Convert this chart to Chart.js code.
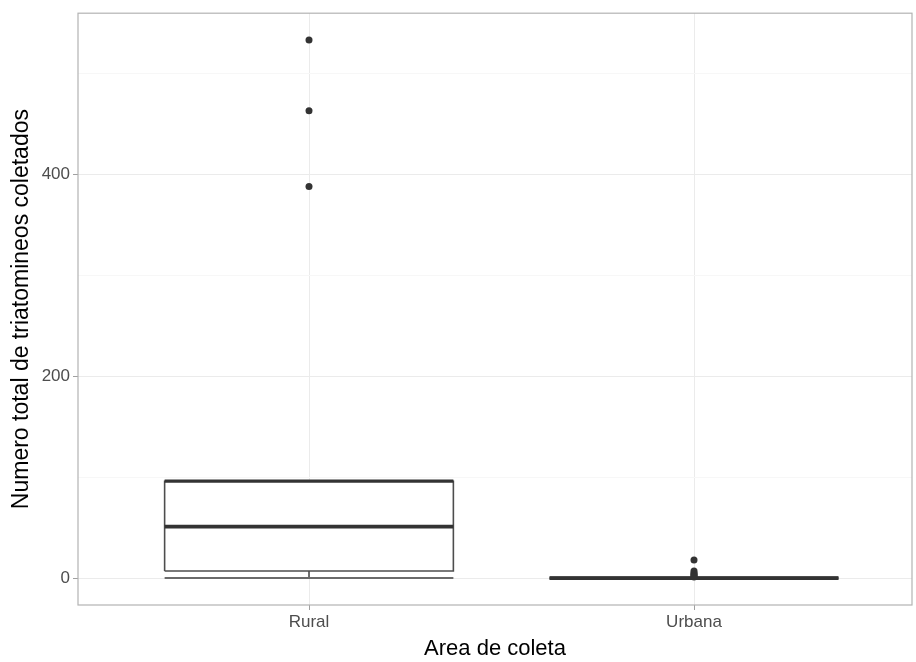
<!DOCTYPE html>
<html>
<head>
<meta charset="utf-8">
<script src="https://cdn.jsdelivr.net/npm/chart.js@4.4.1/dist/chart.umd.min.js"></script>
<style>
  html, body { margin: 0; padding: 0; background: #fff; }
</style>
</head>
<body>
<canvas id="boxChart" width="916" height="662"></canvas>
<script>
"use strict";

// Box plot summary
const categories = ["Rural", "Urbana"];
const lowerWhisker = [0, 0];
const q1Values = [7, 0];
const medianValues = [51, 0];
const q3Values = [96, 0];
const upperWhisker = [96, 0];
const baseValues = [0, null];          // flat line at zero under the Rural box
const ruralOutliers = [388, 463, 533];
const urbanaOutliers = [18, 7, 5, 4, 3, 2, 1];
const yTicks = [0, 100, 200, 300, 400, 500];
const yMajor = [0, 200, 400];

const BOX_WIDTH = 0.75;
const LINE_COLOR = "#4d4d4d";
const DARK = "#333333";

// one straight segment as a scatter dataset
function segment(x0, y0, x1, y1, width, color, order) {
    return {
        type: "scatter",
        data: [{ x: x0, y: y0 }, { x: x1, y: y1 }],
        showLine: true,
        borderColor: color,
        borderWidth: width,
        borderCapStyle: "butt",
        pointRadius: 0,
        fill: false,
        order: order
    };
}

function buildDatasets() {
    const sets = [];
    categories.forEach((cat, i) => {
        const cx = i + 1;
        const x0 = cx - BOX_WIDTH / 2;
        const x1 = cx + BOX_WIDTH / 2;

        // box body (white fill covers the grid)
        sets.push({
            type: "scatter",
            data: [
                { x: x0, y: q1Values[i] }, { x: x1, y: q1Values[i] },
                { x: x1, y: q3Values[i] }, { x: x0, y: q3Values[i] },
                { x: x0, y: q1Values[i] }
            ],
            showLine: true,
            fill: "shape",
            backgroundColor: "#ffffff",
            borderColor: LINE_COLOR,
            borderWidth: 1.6,
            pointRadius: 0,
            order: 10
        });

        // whiskers
        if (lowerWhisker[i] < q1Values[i]) sets.push(segment(cx, lowerWhisker[i], cx, q1Values[i], 1.6, LINE_COLOR, 6));
        if (upperWhisker[i] > q3Values[i]) sets.push(segment(cx, q3Values[i], cx, upperWhisker[i], 1.6, LINE_COLOR, 6));

        // heavy upper edge and median
        sets.push(segment(x0, q3Values[i], x1, q3Values[i], 3.2, DARK, 2));
        sets.push(segment(x0, medianValues[i], x1, medianValues[i], 3.6, DARK, 1));

        if (baseValues[i] !== null) sets.push(segment(x0, baseValues[i], x1, baseValues[i], 2, "#6a6a6a", 5));
    });

    [ruralOutliers, urbanaOutliers].forEach((vals, i) => {
        sets.push({
            type: "scatter",
            data: vals.map(v => ({ x: i + 1, y: v })),
            pointRadius: 3.5,
            pointBackgroundColor: DARK,
            pointBorderWidth: 0,
            order: 0
        });
    });
    return sets;
}

// panel frame
const framePlugin = {
    id: "frame",
    afterDraw(chart) {
        const { ctx, chartArea: a } = chart;
        ctx.save();
        ctx.strokeStyle = "#b3b3b3";
        ctx.lineWidth = 1.2;
        ctx.strokeRect(a.left, a.top, a.right - a.left, a.bottom - a.top);
        ctx.restore();
    }
};

const yTop = 533 * 1.05;
const yBottom = -533 * 0.05;
const FONT = "Liberation Sans, Arial, sans-serif";

new Chart(document.getElementById("boxChart").getContext("2d"), {
    type: "scatter",
    data: { datasets: buildDatasets() },
    options: {
        responsive: false,
        animation: false,
        layout: { padding: { top: 12, right: 4, left: 0, bottom: 0 } },
        plugins: { legend: { display: false }, tooltip: { enabled: false } },
        scales: {
            x: {
                type: "linear",
                min: 0.4,
                max: 0.4 + 834 / 385,
                afterBuildTicks: axis => { axis.ticks = categories.map((c, i) => ({ value: i + 1 })); },
                afterFit: axis => { axis.height = 57; },
                border: { display: false },
                grid: { color: "#ebebeb", lineWidth: 1, tickLength: 5, tickColor: "#a0a0a0" },
                ticks: {
                    callback: value => categories[value - 1] || "",
                    color: "#4d4d4d",
                    font: { family: FONT, size: 17 },
                    padding: 2,
                    maxRotation: 0,
                    autoSkip: false
                },
                title: {
                    display: true,
                    text: "Area de coleta",
                    color: "#000",
                    font: { family: FONT, size: 22 },
                    padding: { top: 0, bottom: 0 }
                }
            },
            y: {
                type: "linear",
                min: yBottom,
                max: yTop,
                afterBuildTicks: axis => { axis.ticks = yTicks.map(v => ({ value: v })); },
                afterFit: axis => { axis.width = 78; },
                border: { display: false },
                grid: {
                    color: c => yMajor.includes(c.tick.value) ? "#ebebeb" : "#f7f7f7",
                    tickColor: c => yMajor.includes(c.tick.value) ? "#a0a0a0" : "rgba(0,0,0,0)",
                    lineWidth: 1,
                    tickLength: 5
                },
                ticks: {
                    callback: value => yMajor.includes(value) ? String(value) : "",
                    color: "#4d4d4d",
                    font: { family: FONT, size: 17 },
                    padding: 3,
                    autoSkip: false
                },
                title: {
                    display: true,
                    text: "Numero total de triatomineos coletados",
                    color: "#000",
                    font: { family: FONT, size: 23 },
                    padding: { top: 8, bottom: 0 }
                }
            }
        }
    },
    plugins: [framePlugin]
});
</script>
</body>
</html>
